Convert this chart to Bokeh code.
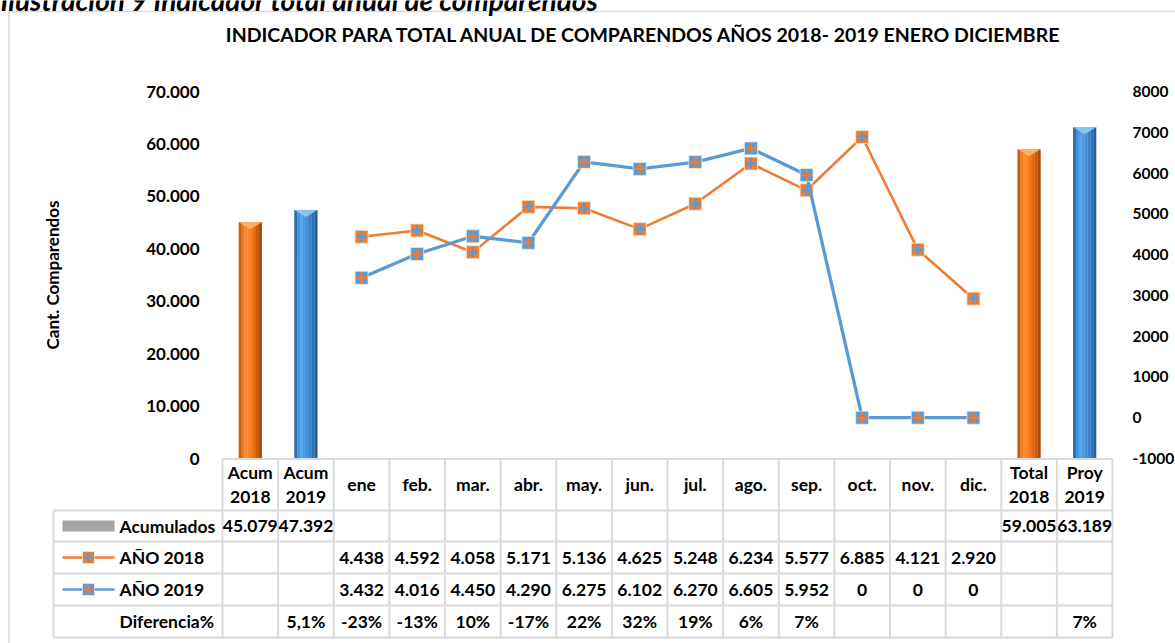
from bokeh.plotting import figure
from bokeh.models import Range1d, LinearAxis, FixedTicker, ColumnDataSource
from bokeh.embed import file_html
from bokeh.resources import INLINE
from bokeh.core.properties import value

# ---------------- data ----------------
categories = ["Acum 2018", "Acum 2019", "ene", "feb.", "mar.", "abr.", "may.", "jun.",
              "jul.", "ago.", "sep.", "oct.", "nov.", "dic.", "Total 2018", "Proy 2019"]
acum_cats = ["Acum 2018", "Acum 2019", "Total 2018", "Proy 2019"]
acum_vals = [45079, 47392, 59005, 63189]
months = ["ene", "feb.", "mar.", "abr.", "may.", "jun.", "jul.", "ago.", "sep.", "oct.", "nov.", "dic."]
anio_2018 = [4438, 4592, 4058, 5171, 5136, 4625, 5248, 6234, 5577, 6885, 4121, 2920]
anio_2019 = [3432, 4016, 4450, 4290, 6275, 6102, 6270, 6605, 5952, 0, 0, 0]
diferencia = ["", "5,1%", "-23%", "-13%", "10%", "-17%", "22%", "32%", "19%", "6%", "7%",
              "", "", "", "", "7%"]
left_ticks = [0, 10000, 20000, 30000, 40000, 50000, 60000, 70000]
right_ticks = [-1000, 0, 1000, 2000, 3000, 4000, 5000, 6000, 7000, 8000]
row_labels = ["Acumulados", "AÑO 2018", "AÑO 2019", "Diferencia%"]

title_text = "INDICADOR PARA TOTAL ANUAL DE COMPARENDOS AÑOS 2018- 2019 ENERO DICIEMBRE"
caption_text = "Ilustración 9 Indicador total anual de comparendos"
ylabel_text = "Cant. Comparendos"

# ---------------- layout constants (pixels) ----------------
FONT = "Lato"
ORANGE = "#ED7D31"
BLUE = "#5B9BD5"
GRID = "#D9D9D9"
W, H = 1175, 643
COL = 55.625              # width of one category column
PLOT_L = 222              # left edge of the category area
PLOT_T, PLOT_B = 91, 458  # top / bottom of the value area
FS = "17.5px"


def fmt(v):
    return f"{v:,}".replace(",", ".")


ncol = len(categories)
kl = (left_ticks[-1] - left_ticks[0]) / (PLOT_B - PLOT_T)
kr = (right_ticks[-1] - right_ticks[0]) / (PLOT_B - PLOT_T)
x_start = -PLOT_L / COL
x_end = x_start + W / COL


def px(page_x):
    return (page_x - PLOT_L) / COL


def py(page_y):
    return H - page_y


p = figure(width=W, height=H,
           x_range=Range1d(x_start, x_end),
           y_range=Range1d(left_ticks[0] - (H - PLOT_B) * kl, left_ticks[-1] + PLOT_T * kl),
           output_backend="svg", toolbar_location=None, x_axis_location=None,
           min_border=0, min_border_left=0, min_border_right=0,
           min_border_top=0, min_border_bottom=0)
p.extra_y_ranges = {
    "r": Range1d(right_ticks[0] - (H - PLOT_B) * kr, right_ticks[-1] + PLOT_T * kr),
    "tbl": Range1d(0, H),
}
p.xgrid.visible = False
p.ygrid.visible = False
p.outline_line_color = None
p.background_fill_color = "white"
p.border_fill_color = "white"

# ---- value axes (drawn at the edges of the category area) ----
ax = p.yaxis[0]
ax.ticker = FixedTicker(ticks=left_ticks)
ax.major_label_overrides = {t: fmt(t) for t in left_ticks}
ax.fixed_location = 0
ax.bounds = (left_ticks[0], left_ticks[-1])
ax.axis_label = ylabel_text
ax.axis_label_standoff = 80
ax.axis_label_text_font = FONT
ax.axis_label_text_font_size = "17px"
ax.axis_label_text_font_style = "bold"
ax.axis_label_text_color = "black"

rax = LinearAxis(y_range_name="r", ticker=FixedTicker(ticks=right_ticks),
                 fixed_location=ncol, bounds=(right_ticks[0], right_ticks[-1]),
                 major_label_overrides={t: str(t) for t in right_ticks})
p.add_layout(rax, "right")

for a, st, fs in ((ax, 17, "17px"), (rax, 14, "15.5px")):
    a.axis_line_color = None
    a.major_tick_line_color = None
    a.minor_tick_line_color = None
    a.major_label_standoff = st
    a.major_label_text_font = FONT
    a.major_label_text_font_size = fs
    a.major_label_text_font_style = "bold"
    a.major_label_text_color = "black"

# ---- chart border, caption (cut at the top as in the source), title ----
bx = px(8.5)
p.segment(x0=[bx], y0=[-10], x1=[bx], y1=[py(11)], y_range_name="tbl",
          line_color=GRID, line_width=1.5)
p.segment(x0=[bx], y0=[py(11)], x1=[x_end + 1], y1=[py(11)], y_range_name="tbl",
          line_color=GRID, line_width=1.5)
p.text(x=[px(0)], y=[py(-1)], text=[caption_text], y_range_name="tbl",
       text_font=value(FONT), text_font_size="28px", text_font_style="bold italic",
       text_color="black", text_align="left", text_baseline="alphabetic")
p.text(x=[px(644)], y=[py(34)], text=[title_text], y_range_name="tbl",
       text_font=value(FONT), text_font_size="19.5px", text_font_style="bold",
       text_color="black", text_align="center", text_baseline="middle")

# ---- bars (cylinder-like shading with vertical strips) ----
bar_w = 0.414
orange_strips = ["#C85B10", "#F0781C", "#FF8A2D", "#FC8226", "#F2761C", "#E36B15", "#CC5E10", "#AC4C0B"]
blue_strips = ["#2E6DAA", "#4393DA", "#52A5EE", "#4B9CE5", "#418FD8", "#3783CA", "#2F73B4", "#275F97"]
bar_x = [categories.index(c) + 0.5 for c in acum_cats]
is_2018 = ["2018" in c for c in acum_cats]
n = len(orange_strips)
sw = bar_w / n
for k in range(n):
    off = -bar_w / 2 + (k + 0.5) * sw
    cols = [orange_strips[k] if o else blue_strips[k] for o in is_2018]
    p.vbar(x=[b + off for b in bar_x], top=acum_vals, bottom=0, width=sw * 1.08,
           fill_color=cols, line_color=None)
# light bevel at the top of each bar
cap = 7 * kl
p.patches(xs=[[b - bar_w / 2, b + bar_w / 2, b] for b in bar_x],
          ys=[[v, v, v - cap] for v in acum_vals],
          fill_color=["#FFB46E" if o else "#8FCBF3" for o in is_2018],
          line_color=None, fill_alpha=0.9)

# ---- lines on secondary axis ----
mx = [categories.index(m) + 0.5 for m in months]
src18 = ColumnDataSource(dict(x=mx, y=anio_2018))
src19 = ColumnDataSource(dict(x=mx, y=anio_2019))
for src, c1, c2, lw in ((src18, ORANGE, BLUE, 2.6), (src19, BLUE, ORANGE, 3.3)):
    p.line("x", "y", source=src, y_range_name="r", line_color=c1, line_width=lw)
    p.scatter("x", "y", source=src, y_range_name="r", marker="square", size=13,
              fill_color=c1, line_color="#F4E6DA", line_width=0.8)
    p.scatter("x", "y", source=src, y_range_name="r", marker="cross", size=11,
              line_color=c2, line_width=2.4)

# ---------------- data table ----------------
xl = px(53)
row_lines = [py(637), py(605), py(573), py(541), py(510)]
top_y = py(458.5)
T = dict(y_range_name="tbl")
t_cols = list(range(ncol + 1))
p.segment(x0=t_cols, y0=[row_lines[0]] * (ncol + 1), x1=t_cols, y1=[top_y] * (ncol + 1),
          line_color=GRID, line_width=2, **T)
p.segment(x0=[xl], y0=[row_lines[0]], x1=[xl], y1=[row_lines[-1]],
          line_color=GRID, line_width=2, **T)
p.segment(x0=[xl] * len(row_lines), y0=row_lines, x1=[ncol] * len(row_lines), y1=row_lines,
          line_color=GRID, line_width=2, **T)
p.segment(x0=[0], y0=[top_y], x1=[ncol], y1=[top_y], line_color=GRID, line_width=2, **T)

txt = dict(text_font=value(FONT), text_font_size=FS, text_font_style="bold",
           text_color="black", text_baseline="middle", y_range_name="tbl")
cx = [i + 0.5 for i in range(ncol)]
hdr = [c.replace(" ", "\n") for c in categories]
p.text(x=cx, y=[py(484)] * ncol, text=hdr, text_align="center",
       text_line_height=1.12, **txt)

row_y = [(row_lines[i] + row_lines[i + 1]) / 2 for i in range(3, -1, -1)]
p.text(x=[px(119)] * 4, y=row_y, text=row_labels, text_align="left", **txt)

p.text(x=bar_x, y=[row_y[0]] * 4, text=[fmt(v) for v in acum_vals], text_align="center", **txt)
p.text(x=mx, y=[row_y[1]] * 12, text=[fmt(v) for v in anio_2018], text_align="center", **txt)
p.text(x=mx, y=[row_y[2]] * 12, text=[fmt(v) for v in anio_2019], text_align="center", **txt)
p.text(x=cx, y=[row_y[3]] * ncol, text=diferencia, text_align="center", **txt)

# legend keys inside the table
kx0, kx1, kxm = px(62), px(114), px(88)
p.quad(left=[kx0], right=[kx1], bottom=[row_y[0] - 5.5], top=[row_y[0] + 5.5],
       fill_color="#A5A5A5", line_color=None, **T)
for yy, c1, c2 in ((row_y[1], ORANGE, BLUE), (row_y[2], BLUE, ORANGE)):
    p.segment(x0=[kx0], y0=[yy], x1=[kx1], y1=[yy], line_color=c1, line_width=2.5, **T)
    p.scatter(x=[kxm], y=[yy], marker="square", size=12, fill_color=c1,
              line_color="#F4E6DA", line_width=0.8, **T)
    p.scatter(x=[kxm], y=[yy], marker="cross", size=10, line_color=c2, line_width=2.2, **T)

open("out.html", "w").write(file_html(p, INLINE))
